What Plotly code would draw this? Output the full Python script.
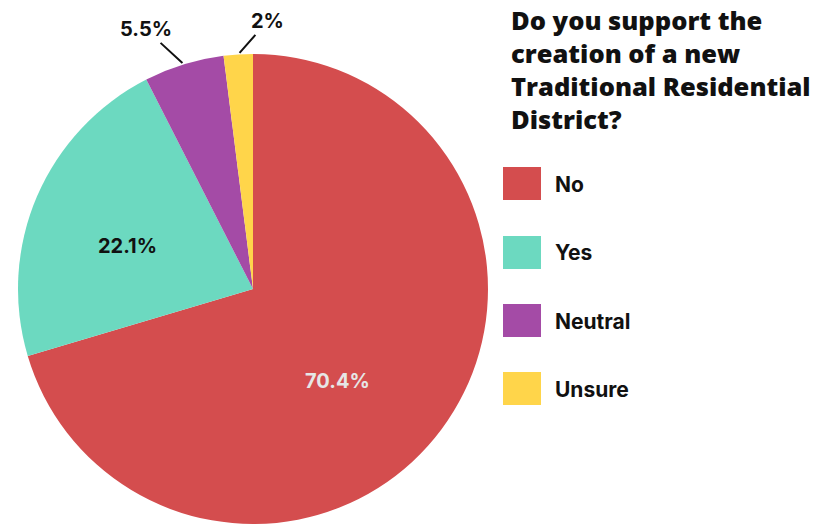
import math
import plotly.graph_objects as go

labels = ["No", "Yes", "Neutral", "Unsure"]
values = [70.4, 22.1, 5.5, 2.0]
pct_text = ["70.4%", "22.1%", "5.5%", "2%"]
colors = ["#D44D4E", "#6CD9C0", "#A44BA6", "#FFD54A"]
label_colors = ["#E6E6E6", "#111111", "#111111", "#111111"]
title_text = "Do you support the<br>creation of a new<br>Traditional Residential<br>District?"

W, H = 835, 526
FONT = "Inter"
WEIGHT = "bold"

# pie domain in pixels
px0, px1 = 18, 488
py0, py1 = 54, 524
dom_x = [px0 / W, px1 / W]
dom_y = [1 - py1 / H, 1 - py0 / H]
cx, cy = (px0 + px1) / 2, (py0 + py1) / 2
R = (px1 - px0) / 2

fig = go.Figure()
fig.add_trace(go.Pie(
    labels=labels, values=values, text=pct_text,
    textinfo="none", sort=False, direction="clockwise", rotation=0,
    marker=dict(colors=colors, line=dict(width=0)),
    domain=dict(x=dom_x, y=dom_y),
    showlegend=False, hoverinfo="label+percent",
))

annotations = []
total = sum(values)
cum = 0
placement = {
    0: ("inside", 125 / R, (-16, 17)),
    1: ("inside", 130 / R, (-6, 8)),
    2: ("outside", (-38, -35), None),
    3: ("outside", (29, -33), None),
}
for i, v in enumerate(values):
    mid = (cum + v / 2) / total * 360
    cum += v
    sx, sy = math.sin(math.radians(mid)), -math.cos(math.radians(mid))
    kind, p, shift = placement[i]
    font = dict(family=FONT, size=20, color=label_colors[i], weight=WEIGHT)
    if kind == "inside":
        lx = cx + p * R * sx + shift[0]
        ly = cy + p * R * sy + shift[1]
        annotations.append(dict(x=lx / W, y=1 - ly / H, xref="paper", yref="paper",
                                xanchor="center", yanchor="middle",
                                text=pct_text[i], showarrow=False, font=font))
    else:
        hx = cx + R * sx
        hy = cy + R * sy
        annotations.append(dict(
            x=hx / W, y=1 - hy / H, xref="paper", yref="paper",
            text=pct_text[i], showarrow=True, arrowhead=0, arrowwidth=2,
            arrowcolor="#111", ax=p[0], ay=p[1], standoff=2, font=font,
        ))

# title
annotations.append(dict(
    x=509 / W, y=1 - 1 / H, xref="paper", yref="paper", xanchor="left", yanchor="top",
    text=title_text, showarrow=False, align="left",
    font=dict(family="Open Sans", size=25.5, color="#111", weight=800),
))

# custom legend
shapes = []
leg_top = [167, 236, 304, 372]
for i, lab in enumerate(labels):
    y0 = leg_top[i]
    shapes.append(dict(type="rect", xref="paper", yref="paper",
                       x0=503 / W, x1=541 / W, y0=1 - (y0 + 33) / H, y1=1 - y0 / H,
                       fillcolor=colors[i], line=dict(width=0)))
    annotations.append(dict(
        x=553 / W, y=1 - (y0 + 17) / H, xref="paper", yref="paper",
        xanchor="left", yanchor="middle", text=lab, showarrow=False,
        font=dict(family=FONT, size=21, color="#111", weight=WEIGHT),
    ))

fig.update_layout(
    width=W, height=H, margin=dict(l=0, r=0, t=0, b=0),
    paper_bgcolor="white", plot_bgcolor="white",
    annotations=annotations, shapes=shapes,
)
fig.write_html("out.html")
